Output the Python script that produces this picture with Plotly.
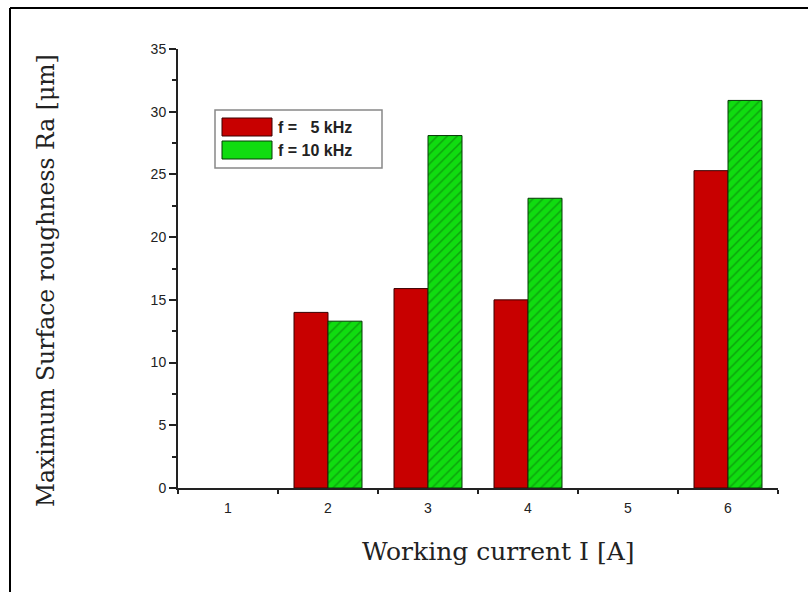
import plotly.graph_objects as go

categories = [1, 2, 3, 4, 5, 6]
series_names = ["f =   5 kHz", "f = 10 kHz"]
ra_5khz = [None, 14.0, 15.9, 15.0, None, 25.3]
ra_10khz = [None, 13.3, 28.1, 23.1, None, 30.9]
y_ticks = [0, 5, 10, 15, 20, 25, 30, 35]
x_title = "Working current I [A]"
y_title = "Maximum Surface roughness Ra [μm]"

RED = "#c80000"
GREEN = "#10dc10"
HATCH = "#0a6a0a"

fig = go.Figure()
fig.add_trace(go.Bar(
    x=categories, y=ra_5khz, name=series_names[0],
    marker=dict(color=RED, line=dict(color="#3a0000", width=1)),
))
fig.add_trace(go.Bar(
    x=categories, y=ra_10khz, name=series_names[1],
    marker=dict(color=GREEN, line=dict(color="#063806", width=1),
                pattern=dict(shape="/", fgcolor=HATCH, bgcolor=GREEN,
                             size=7, solidity=0.22)),
))

L, R, T, B = 178, 30, 49, 104
W, H = 808, 592
pw, ph = W - L - R, H - T - B

def px_x(p):
    return (p - L) / pw

def px_y(p):
    return (H - B - p) / ph

shapes = []
# outer frame (top + left)
shapes.append(dict(type="line", xref="paper", yref="paper",
                   x0=px_x(10), x1=px_x(808), y0=px_y(8), y1=px_y(8),
                   line=dict(color="black", width=2)))
shapes.append(dict(type="line", xref="paper", yref="paper",
                   x0=px_x(10), x1=px_x(10), y0=px_y(8), y1=px_y(592),
                   line=dict(color="black", width=2)))
# legend box
shapes.append(dict(type="rect", xref="paper", yref="paper",
                   x0=px_x(215), x1=px_x(382), y0=px_y(110), y1=px_y(168),
                   line=dict(color="#888888", width=1.5), fillcolor="white"))
shapes.append(dict(type="rect", xref="paper", yref="paper",
                   x0=px_x(222), x1=px_x(272), y0=px_y(118), y1=px_y(136),
                   line=dict(color="#3a0000", width=1), fillcolor=RED))
shapes.append(dict(type="rect", xref="paper", yref="paper",
                   x0=px_x(222), x1=px_x(272), y0=px_y(141), y1=px_y(159),
                   line=dict(color="#063806", width=1), fillcolor=GREEN))

annotations = []
for i, (name, yc) in enumerate(zip(series_names, [127, 150])):
    annotations.append(dict(
        xref="paper", yref="paper", x=px_x(276), y=px_y(yc),
        xanchor="left", yanchor="middle", showarrow=False,
        text="<b>" + name.replace(" ", "&nbsp;") + "</b>",
        font=dict(family="Arial, Liberation Sans", size=16, color="#222")))

# axis titles
annotations.append(dict(
    xref="paper", yref="paper", x=px_x(498), y=px_y(551),
    xanchor="center", yanchor="middle", showarrow=False, text=x_title,
    font=dict(family="DejaVu Serif", size=25, color="#222")))
annotations.append(dict(
    xref="paper", yref="paper", x=px_x(46), y=px_y(281),
    xanchor="center", yanchor="middle", showarrow=False, text=y_title,
    textangle=-90,
    font=dict(family="DejaVu Serif", size=23.5, color="#222")))

fig.update_layout(
    width=W, height=H,
    margin=dict(l=L, r=R, t=T, b=B),
    paper_bgcolor="white", plot_bgcolor="white",
    barmode="group", bargap=0.32, bargroupgap=0,
    showlegend=False,
    shapes=shapes, annotations=annotations,
    font=dict(family="Arial, Liberation Sans", size=14, color="#222"),
)
fig.update_xaxes(
    range=[0.5, 6.5], tickvals=categories, ticktext=[str(c) for c in categories],
    ticks="", showline=True, linecolor="#222", linewidth=2,
    showgrid=False, zeroline=False,
    minor=dict(tick0=0.5, dtick=1, ticks="outside", ticklen=4,
               tickcolor="#222", tickwidth=2, showgrid=False),
    ticklabelstandoff=6,
    tickfont=dict(size=14, color="#222"),
)
fig.update_yaxes(
    range=[0, 35], tickvals=y_ticks, ticks="outside", ticklen=7,
    tickcolor="#222", tickwidth=2,
    showline=True, linecolor="#222", linewidth=2,
    showgrid=False, zeroline=False,
    minor=dict(dtick=2.5, tick0=0, ticks="outside", ticklen=4,
               tickcolor="#222", tickwidth=2, showgrid=False),
    tickfont=dict(size=14, color="#222"),
)

fig.write_html("out.html")
